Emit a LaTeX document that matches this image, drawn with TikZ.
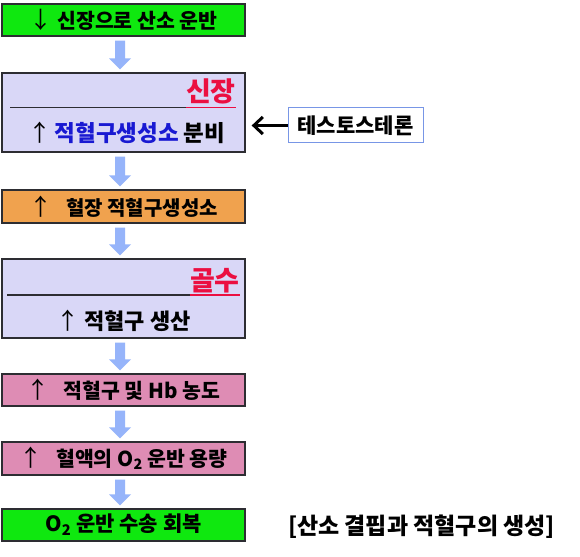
\documentclass[tikz,border=0pt]{standalone}
\usepackage{fontspec}
\setmainfont{Noto Sans CJK KR}
\usetikzlibrary{calc,arrows.meta}
\definecolor{grn}{RGB}{15,232,15}
\definecolor{lav}{RGB}{217,215,247}
\definecolor{org}{RGB}{240,162,78}
\definecolor{pnk}{RGB}{222,140,180}
\definecolor{arr}{RGB}{150,180,250}
\definecolor{blu}{RGB}{25,25,210}
\definecolor{rd}{RGB}{235,15,65}
\definecolor{tbord}{RGB}{120,150,230}
\definecolor{boxline}{RGB}{45,45,50}
\newcommand\myfs[1]{\fontsize{#1}{#1}\selectfont\bfseries}
\newcommand\up{{\fontsize{23}{23}\selectfont\mdseries ↑}}
\newcommand\dn{{\fontsize{23}{23}\selectfont\mdseries ↓}}
\newcommand\barrow[2]{%
  \fill[arr] let \p1=(#1.south), \p2=(#2.north) in
    (120pt-5pt,\y1-4pt) -- (120pt+5pt,\y1-4pt) -- (120pt+5pt,\y2+14pt) --
    (120pt+11pt,\y2+14pt) -- (120pt,\y2+3pt) -- (120pt-11pt,\y2+14pt) --
    (120pt-5pt,\y2+14pt) -- cycle;}
\begin{document}
\begin{tikzpicture}[x=1pt,y=-1pt,
  box/.style={draw=boxline, line width=1.3pt, minimum width=243pt, inner sep=0pt, font=\myfs{20}},
  title/.style={text=rd, inner sep=0pt, font=\myfs{27}, anchor=base east},
  lbl/.style={inner sep=0pt, font=\myfs{20}}]
\useasboundingbox (0,0) rectangle (580,556);
\fill[white] (0,0) rectangle (580,556);
% boxes
\node[box, fill=grn, minimum height=32pt, font=\myfs{20.5}] (b1) at (123.5,20) {\dn\hspace{5pt}신장으로 산소 운반};
\node[box, fill=lav, minimum height=79pt] (b2) at (123.5,112.5) {};
\node[title] (t2) at (236,102) {신장};
\draw[line width=1.2pt, boxline] (10,107.5) -- (t2.base west |- 0,107.5);
\draw[line width=1.2pt, rd] (t2.base west |- 0,107.5) -- (t2.base east |- 0,107.5);
\node[lbl, font=\myfs{22.5}] (s2) at (127,133) {\up\hspace{3pt}{\color{blu}적혈구생성소} 분비};
\node[box, fill=org, minimum height=33pt, font=\myfs{20}] (b3) at (123.5,206.5) {\up\hspace{14pt}혈장 적혈구생성소};
\node[box, fill=lav, minimum height=79pt] (b4) at (123.5,298.5) {};
\node[title] (t4) at (240,290) {골수};
\draw[line width=1.2pt, boxline] (7,295) -- (t4.base west |- 0,295);
\draw[line width=1.2pt, rd] (t4.base west |- 0,295) -- (t4.base east |- 0,295);
\node[lbl, font=\myfs{22}] (s4) at (123.5,321) {\up\hspace{5pt}적혈구 생산};
\node[box, fill=pnk, minimum height=32pt, font=\myfs{20.5}] (b5) at (123.5,390) {\up\hspace{14pt}적혈구 및 Hb 농도};
\node[box, fill=pnk, minimum height=33pt, font=\myfs{20.5}] (b6) at (123.5,458.5) {\up\hspace{14pt}혈액의 O\textsubscript{2} 운반 용량};
\node[box, fill=grn, minimum height=32pt, font=\myfs{21}] (b7) at (123.5,525) {O\textsubscript{2} 운반 수송 회복\hspace{7pt}};
% block arrows
\barrow{b1}{b2}
\barrow{b2}{b3}
\barrow{b3}{b4}
\barrow{b4}{b5}
\barrow{b5}{b6}
\barrow{b6}{b7}
% testosterone
\node[draw=tbord, line width=1pt, fill=white, minimum width=135pt, minimum height=35pt, inner sep=0pt, font=\myfs{21}] (te) at (355.5,125.5) {테스토스테론};
\draw[line width=3pt, -{Straight Barb[length=9pt,width=17pt]}, shorten >=6pt] (te.west) -- (te.west -| b2.east);
% caption
\node[lbl, font=\myfs{23}] (cap) at (421.5,527) {[산소 결핍과 적혈구의 생성]};
\end{tikzpicture}
\end{document}
